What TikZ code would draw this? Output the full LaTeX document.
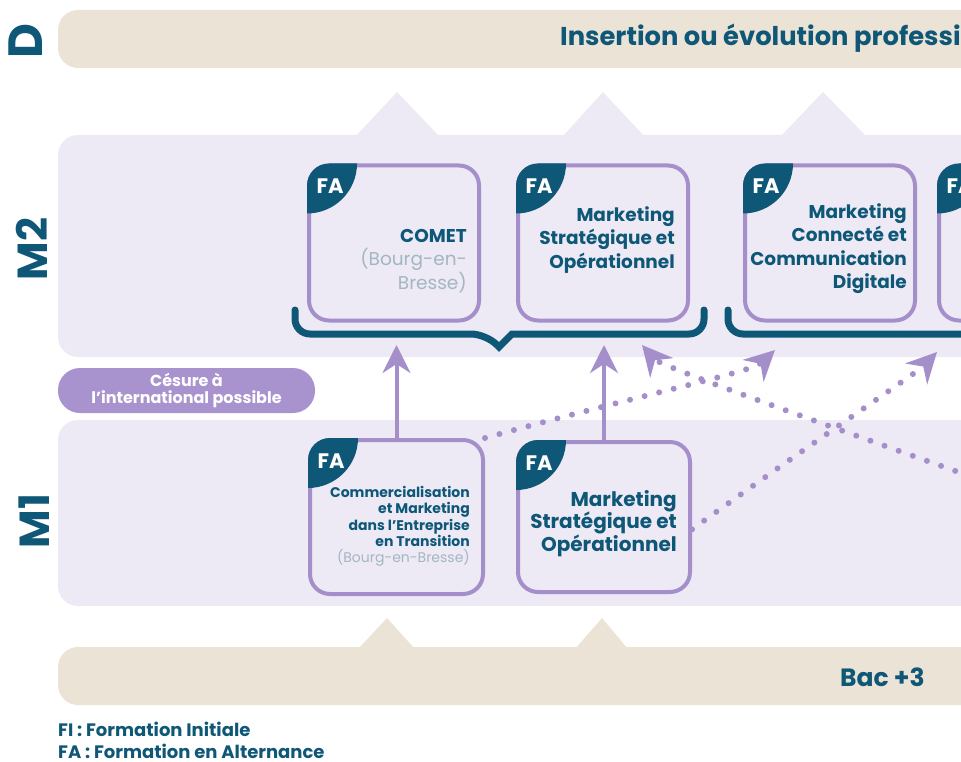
\documentclass[tikz,border=0pt]{standalone}
\usepackage{fontspec}
\setmainfont{Poppins}
\usetikzlibrary{arrows.meta}

\definecolor{inkteal}{HTML}{0E5777}
\definecolor{lilacband}{HTML}{EDEAF5}
\definecolor{sandband}{HTML}{ECE3D7}
\definecolor{lilacline}{HTML}{A58FCB}
\definecolor{pillfill}{HTML}{A893CF}
\definecolor{placegray}{HTML}{A3B6C2}

\begin{document}
\begin{tikzpicture}[x=1pt,y=-1pt,
    card/.style={draw=lilacline, line width=4pt, fill=lilacband, rounded corners=20pt,
      minimum width=170pt, minimum height=155pt, inner sep=0pt},
    title/.style={text=inkteal, font=\fontsize{18.5}{23.5}\selectfont\bfseries,
      align=right, anchor=north east, inner sep=0pt},
    level/.style={text=inkteal, font=\fontsize{42}{42}\selectfont\bfseries, rotate=90, inner sep=0pt},
    headline/.style={text=inkteal, font=\fontsize{25}{25}\selectfont\bfseries, inner sep=0pt},
    falabel/.style={text=white, font=\fontsize{21}{21}\selectfont\bfseries, inner sep=0pt},
    pill/.style={fill=pillfill, rounded corners=22pt, minimum width=257pt, minimum height=45pt,
      text=white, font=\fontsize{16}{17}\selectfont\bfseries, align=center, inner sep=0pt},
    brace/.style={draw=inkteal, line width=7pt, line cap=round},
    lift/.style={lilacline, line width=4pt, -{Stealth[length=28pt,width=28pt,inset=9pt]}},
    maybe/.style={lilacline, line width=6pt, line cap=round, dash pattern=on 0pt off 15pt,
      -{Stealth[length=30pt,width=30pt,inset=10pt]}}]
\useasboundingbox (0,0) rectangle (961,762);
\clip (0,0) rectangle (961,762);

% bands
\fill[sandband, rounded corners=20pt] (58,10) rectangle (1100,68);
\fill[lilacband] (355,137) -- (397,92) -- (440,137) -- cycle;
\fill[lilacband] (562,137) -- (603,92) -- (645,137) -- cycle;
\fill[lilacband] (780,137) -- (823,92) -- (867,137) -- cycle;
\fill[lilacband, rounded corners=20pt] (58,135) rectangle (1100,357);
\fill[lilacband, rounded corners=20pt] (58,420) rectangle (1100,606);
\fill[sandband] (358,649) -- (387,618) -- (415,649) -- cycle;
\fill[sandband] (575,649) -- (602,618) -- (628,649) -- cycle;
\fill[sandband, rounded corners=20pt] (58,647) rectangle (1100,705);

\node[level, font=\fontsize{48}{48}\selectfont\bfseries] (dlab) at (26,41) {D};
\node[level] (m2lab) at (32,249) {M2};
\node[level] (m1lab) at (34,521) {M1};

\node[headline, font=\fontsize{25.8}{26}\selectfont\bfseries, anchor=base west] (insertion) at (560,46) {Insertion ou évolution professionnelle};
\node[headline, anchor=base east] (bac) at (925,686) {Bac +3};

% cards
\node[card] (comet) at (394,243) {};
\node[card] (mso2) at (603,243) {};
\node[card] (mccd) at (830,243) {};
\node[card] (next2) at (1024,243) {};
\node[card, minimum width=173pt, minimum height=154pt] (cmet) at (396.5,517) {};
\node[card, minimum width=172pt, minimum height=150pt] (mso1) at (604,517) {};

\foreach \c in {comet,mso2,mccd,next2,cmet,mso1} {
  \begin{scope}
    \clip[rounded corners=22pt] (\c.north west) rectangle (\c.south east);
    \fill[inkteal] (\c.north west) circle (50pt);
  \end{scope}
  \node[falabel] at ([shift={(23,23)}]\c.north west) {FA};
}

\node[title] (cometname) at (467,229) {COMET\\{\mdseries\color{placegray}(Bourg-en-}\\{\mdseries\color{placegray}Bresse)}};
\node[title] (mso2name) at (675,206) {Marketing\\Stratégique et\\Opérationnel};
\node[title] (mccdname) at (907,203) {Marketing\\Connecté et\\Communication\\Digitale};
\node[title, font=\fontsize{14}{16.3}\selectfont\bfseries] (cmetname) at (470,486)
  {Commercialisation\\et Marketing\\dans l'Entreprise\\en Transition\\{\mdseries\color{placegray}(Bourg-en-Bresse)}};
\node[title, font=\fontsize{20}{22.5}\selectfont\bfseries] (mso1name) at (677,490) {Marketing\\Stratégique et\\Opérationnel};

% braces
\draw[brace] (295,310) [rounded corners=15pt] -- (295,334) -- (486,334) [sharp corners] -- (499,347) -- (512,334) [rounded corners=15pt] -- (704,334) -- (704,310);
\draw[brace] (728,310) [rounded corners=15pt] -- (728,334) -- (1100,334);

% passages M1 -> M2
\coordinate (upa) at (397,345);
\coordinate (tipa) at (775,350);
\coordinate (tipb) at (937,352);
\coordinate (tipc) at (642,345);
\coordinate (m1next) at (1040,501);
\draw[lift] (cmet) -- (cmet |- upa);
\draw[lift] (mso1) -- (mso1 |- upa);
\draw[maybe] (cmet.north east) .. controls (640,395) and (752,372) .. (tipa);
\draw[maybe] (mso1.-8) .. controls (820,437) and (918,372) .. (tipb);
\draw[maybe] (m1next) .. controls (820,423) and (660,366) .. (tipc);

\node[pill] (cesure) at (186.5,390.5) {Césure à\\l'international possible};

\node[text=inkteal, font=\fontsize{18}{22}\selectfont\bfseries, align=left, anchor=north west, inner sep=0pt]
  (legend) at (58,722) {FI : Formation Initiale\\FA : Formation en Alternance};
\end{tikzpicture}
\end{document}
